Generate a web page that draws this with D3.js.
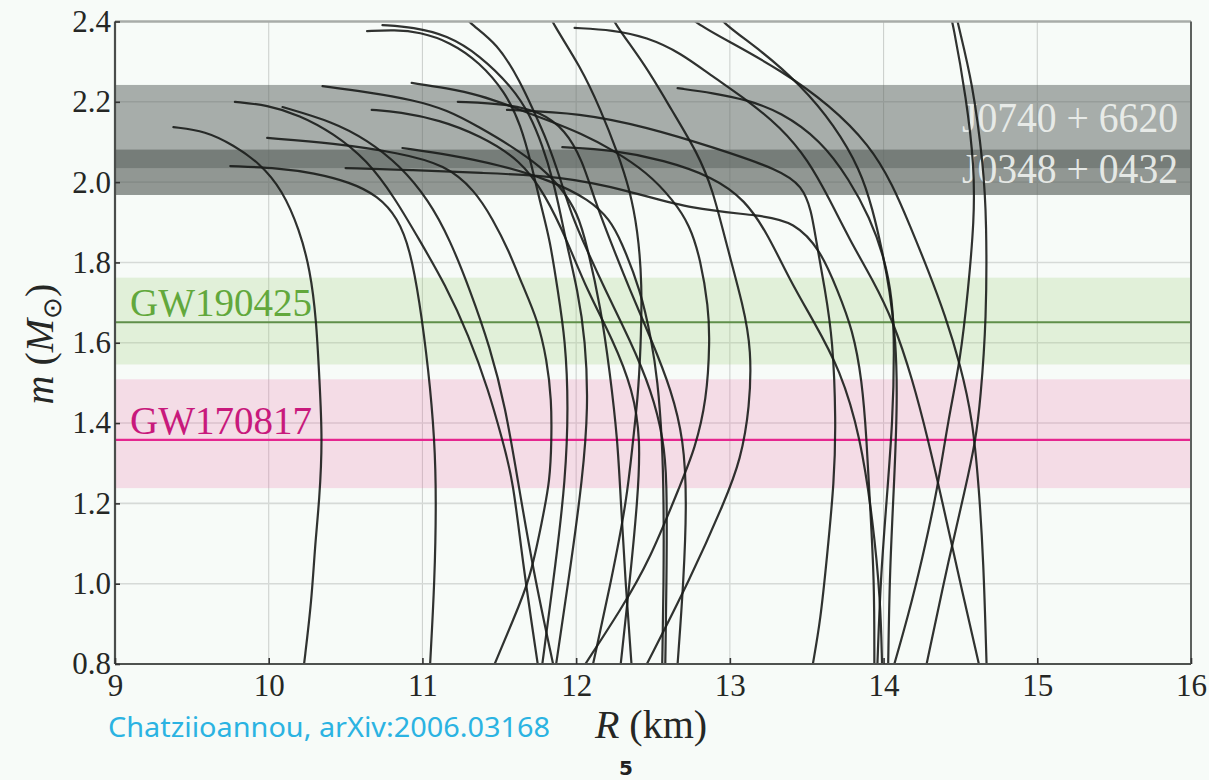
<!DOCTYPE html>
<html>
<head>
<meta charset="utf-8">
<script src="https://cdn.jsdelivr.net/npm/d3@7"></script>
<style>
  html, body { margin: 0; padding: 0; background: #f7fbf8; }
  svg { display: block; }
</style>
</head>
<body>
<svg id="chart" width="1209" height="780"></svg>
<script>
// ---- data -------------------------------------------------------------
// Axis ticks
const radiusTicks = [9, 10, 11, 12, 13, 14, 15, 16];
const massTicks = [0.8, 1.0, 1.2, 1.4, 1.6, 1.8, 2.0, 2.2, 2.4];

// Pulsar mass measurements (grey bands), in solar masses
const pulsarNames = ["J0740 + 6620", "J0348 + 0432"];
const pulsarLow   = [2.035, 1.968];
const pulsarHigh  = [2.242, 2.081];

// Gravitational-wave events: band range and central mass
const gwNames   = ["GW190425", "GW170817"];
const gwLow     = [1.546, 1.238];
const gwHigh    = [1.762, 1.509];
const gwCentral = [1.651, 1.358];

// Mass-radius sequences [R (km), m (Msun)], listed from the heaviest star down to 0.8 Msun
const massRadiusCurves = [
  [[9.38,2.137],[9.59,2.127],[9.77,2.092],[9.94,2.048],[10.09,1.980],[10.20,1.881],[10.27,1.781],[10.31,1.657],[10.33,1.507],[10.35,1.358],[10.33,1.208],[10.30,1.091],[10.28,0.960],[10.23,0.800]],
  [[9.75,2.040],[10.07,2.035],[10.29,2.023],[10.53,2.000],[10.71,1.966],[10.84,1.911],[10.92,1.831],[10.98,1.707],[11.04,1.532],[11.08,1.358],[11.09,1.208],[11.08,1.010],[11.05,0.800]],
  [[9.78,2.200],[9.99,2.192],[10.20,2.167],[10.42,2.122],[10.64,2.055],[10.82,1.961],[10.98,1.856],[11.15,1.744],[11.30,1.619],[11.43,1.482],[11.52,1.358],[11.59,1.258],[11.65,1.059],[11.75,0.800]],
  [[10.09,2.187],[10.42,2.150],[10.64,2.105],[10.85,2.043],[11.04,1.956],[11.18,1.856],[11.31,1.731],[11.44,1.589],[11.54,1.440],[11.62,1.258],[11.72,1.034],[11.85,0.800]],
  [[9.99,2.110],[10.42,2.097],[10.85,2.073],[11.15,2.043],[11.34,1.980],[11.46,1.906],[11.56,1.831],[11.65,1.744],[11.75,1.657],[11.81,1.557],[11.84,1.457],[11.84,1.358],[11.83,1.258],[11.78,1.159],[11.70,1.010],[11.59,0.910],[11.47,0.800]],
  [[10.64,2.376],[10.82,2.379],[10.98,2.374],[11.18,2.349],[11.37,2.299],[11.54,2.224],[11.64,2.142],[11.71,2.043],[11.77,1.943],[11.83,1.856],[11.88,1.731],[11.93,1.607],[11.95,1.440],[11.93,1.258],[11.87,1.059],[11.78,0.800]],
  [[10.74,2.391],[10.94,2.386],[11.16,2.366],[11.37,2.317],[11.59,2.234],[11.70,2.167],[11.78,2.092],[11.85,2.005],[11.90,1.918],[11.94,1.843],[12.01,1.731],[12.06,1.607],[12.08,1.440],[12.04,1.258],[11.97,1.059],[11.87,0.800]],
  [[10.67,2.180],[10.85,2.175],[11.11,2.155],[11.37,2.117],[11.64,2.055],[11.80,1.968],[11.94,1.856],[12.07,1.731],[12.24,1.607],[12.37,1.482],[12.42,1.358],[12.40,1.208],[12.35,1.010],[12.29,0.800]],
  [[11.25,2.430],[11.29,2.399],[11.49,2.346],[11.64,2.247],[11.72,2.180],[11.81,2.105],[11.90,2.005],[11.97,1.918],[12.07,1.831],[12.19,1.731],[12.35,1.607],[12.49,1.482],[12.57,1.358],[12.59,1.258],[12.59,1.059],[12.58,0.800]],
  [[10.35,2.239],[10.64,2.224],[10.94,2.205],[11.16,2.180],[11.37,2.137],[11.59,2.087],[11.77,2.038],[11.90,1.988],[12.01,1.923],[12.07,1.843],[12.16,1.689],[12.22,1.525],[12.27,1.358],[12.29,1.208],[12.32,1.010],[12.36,0.800]],
  [[11.23,2.200],[11.55,2.195],[11.77,2.175],[11.93,2.130],[12.04,2.055],[12.12,1.956],[12.22,1.856],[12.35,1.731],[12.49,1.607],[12.62,1.482],[12.70,1.358],[12.72,1.208],[12.70,1.010],[12.66,0.800]],
  [[11.80,2.440],[11.84,2.399],[12.03,2.287],[12.16,2.180],[12.27,2.073],[12.35,1.980],[12.40,1.881],[12.43,1.749],[12.42,1.582],[12.40,1.457],[12.37,1.358],[12.33,1.208],[12.23,1.010],[12.11,0.800]],
  [[10.87,2.085],[11.18,2.068],[11.50,2.043],[11.83,2.005],[12.09,1.956],[12.22,1.906],[12.29,1.856],[12.42,1.731],[12.49,1.607],[12.53,1.507],[12.56,1.358],[12.57,1.208],[12.57,1.010],[12.56,0.800]],
  [[10.93,2.247],[11.16,2.234],[11.37,2.217],[11.59,2.187],[11.81,2.155],[12.03,2.122],[12.24,2.080],[12.46,2.025],[12.63,1.956],[12.74,1.893],[12.81,1.806],[12.86,1.689],[12.87,1.607],[12.85,1.457],[12.77,1.333],[12.69,1.258],[12.48,1.059],[12.29,0.935],[12.06,0.800]],
  [[12.20,2.440],[12.24,2.399],[12.45,2.292],[12.62,2.180],[12.79,2.073],[12.89,1.980],[12.97,1.856],[13.09,1.689],[13.14,1.582],[13.13,1.440],[13.07,1.308],[12.97,1.208],[12.74,1.010],[12.46,0.800]],
  [[10.50,2.035],[10.94,2.030],[11.37,2.023],[11.90,2.015],[12.33,1.980],[12.76,1.931],[13.20,1.918],[13.42,1.901],[13.59,1.831],[13.70,1.731],[13.80,1.632],[13.86,1.507],[13.89,1.358],[13.91,1.208],[13.94,1.010],[13.94,0.800]],
  [[11.55,2.180],[12.03,2.172],[12.46,2.137],[12.89,2.087],[13.33,2.030],[13.47,1.990],[13.53,1.931],[13.56,1.856],[13.62,1.731],[13.67,1.607],[13.69,1.408],[13.68,1.258],[13.63,1.059],[13.59,0.910],[13.54,0.800]],
  [[11.99,2.384],[12.24,2.379],[12.46,2.361],[12.68,2.322],[12.89,2.262],[13.11,2.205],[13.33,2.137],[13.51,2.055],[13.65,1.956],[13.78,1.856],[13.93,1.756],[14.06,1.657],[14.19,1.507],[14.29,1.358],[14.38,1.208],[14.48,1.034],[14.62,0.800]],
  [[12.88,2.440],[12.94,2.399],[13.20,2.329],[13.46,2.242],[13.68,2.142],[13.85,2.030],[13.93,1.931],[13.99,1.831],[14.04,1.731],[14.08,1.607],[14.09,1.457],[14.07,1.258],[14.04,1.034],[14.03,0.800]],
  [[12.66,2.234],[12.89,2.222],[13.11,2.205],[13.33,2.175],[13.59,2.105],[13.78,2.005],[13.91,1.911],[14.00,1.819],[14.06,1.707],[14.07,1.582],[14.06,1.408],[14.02,1.208],[13.98,1.010],[13.96,0.800]],
  [[12.70,2.430],[12.76,2.399],[13.00,2.349],[13.33,2.279],[13.65,2.192],[13.91,2.092],[14.06,1.993],[14.17,1.893],[14.29,1.781],[14.40,1.669],[14.50,1.545],[14.58,1.408],[14.62,1.241],[14.65,1.059],[14.67,0.800]],
  [[11.91,2.087],[12.24,2.080],[12.57,2.055],[12.89,2.013],[13.10,1.956],[13.25,1.868],[13.39,1.756],[13.54,1.657],[13.72,1.532],[13.85,1.365],[13.93,1.159],[13.98,0.960],[13.99,0.800]],
  [[14.42,2.440],[14.45,2.399],[14.54,2.205],[14.59,2.038],[14.59,1.906],[14.55,1.731],[14.50,1.557],[14.42,1.408],[14.35,1.233],[14.25,1.059],[14.16,0.920],[14.07,0.800]],
  [[14.46,2.440],[14.48,2.399],[14.58,2.247],[14.65,2.038],[14.67,1.906],[14.67,1.657],[14.63,1.457],[14.60,1.358],[14.53,1.233],[14.43,1.072],[14.28,0.800]]
];

// ---- layout -----------------------------------------------------------
const W = 1209, H = 780;
const plot = { left: 115, right: 1191, top: 21.5, bottom: 664 };
const serif = "'Liberation Serif', 'Times New Roman', serif";

const svg = d3.select("#chart");
const x = d3.scaleLinear().domain([9, 16]).range([plot.left, plot.right]);
const y = d3.scaleLinear().domain([0.8, 2.4]).range([plot.bottom, plot.top]);

svg.append("rect").attr("width", W).attr("height", H).attr("fill", "#f7fbf8");

svg.append("defs").append("clipPath").attr("id", "plot-clip")
  .append("rect")
  .attr("x", plot.left).attr("y", plot.top)
  .attr("width", plot.right - plot.left).attr("height", plot.bottom - plot.top);

const inner = svg.append("g").attr("clip-path", "url(#plot-clip)");

// grid
inner.append("g").selectAll("line")
  .data(radiusTicks.slice(1, -1)).join("line")
  .attr("x1", d => x(d)).attr("x2", d => x(d))
  .attr("y1", plot.top).attr("y2", plot.bottom)
  .attr("stroke", "#cdd1ce").attr("stroke-width", 1.1);
inner.append("g").selectAll("line")
  .data(massTicks.slice(1, -1)).join("line")
  .attr("x1", plot.left).attr("x2", plot.right)
  .attr("y1", d => y(d)).attr("y2", d => y(d))
  .attr("stroke", "#d6dad7").attr("stroke-width", 1.6);

// gravitational-wave bands
const gwFill = ["rgba(165,212,132,0.27)", "rgba(235,110,170,0.22)"];
const gwLine = ["#5f8f4a", "#e5268f"];
const gwText = ["#62a83c", "#c8197c"];
inner.append("g").selectAll("rect")
  .data(gwNames).join("rect")
  .attr("x", plot.left).attr("width", plot.right - plot.left)
  .attr("y", (d, i) => y(gwHigh[i]))
  .attr("height", (d, i) => y(gwLow[i]) - y(gwHigh[i]))
  .attr("fill", (d, i) => gwFill[i]);

// pulsar bands
const pulsarAlpha = [0.52, 0.67];
inner.append("g").selectAll("rect")
  .data([1, 0]).join("rect")
  .attr("x", plot.left).attr("width", plot.right - plot.left)
  .attr("y", i => y(pulsarHigh[i]))
  .attr("height", i => y(pulsarLow[i]) - y(pulsarHigh[i]))
  .attr("fill", "#5e6561").attr("fill-opacity", i => pulsarAlpha[i]);

// pulsar labels
inner.append("g").selectAll("text")
  .data(pulsarNames).join("text")
  .attr("x", 1178)
  .attr("y", (d, i) => [132, 183][i])
  .attr("text-anchor", "end")
  .attr("font-family", serif).attr("font-size", 42)
  .attr("textLength", 216).attr("lengthAdjust", "spacingAndGlyphs")
  .attr("fill", "#eef1ee").attr("fill-opacity", 0.92)
  .text(d => d);

// GW central lines and labels
inner.append("g").selectAll("line")
  .data(gwNames).join("line")
  .attr("x1", plot.left).attr("x2", plot.right)
  .attr("y1", (d, i) => y(gwCentral[i])).attr("y2", (d, i) => y(gwCentral[i]))
  .attr("stroke", (d, i) => gwLine[i]).attr("stroke-width", 2.2);
inner.append("g").selectAll("text")
  .data(gwNames).join("text")
  .attr("x", 130)
  .attr("y", (d, i) => y(gwCentral[i]) - 6)
  .attr("font-family", serif).attr("font-size", 39)
  .attr("fill", (d, i) => gwText[i])
  .text(d => d);

// mass-radius curves (smoothed through the sampled points)
const line = d3.line()
  .x(d => x(d[0])).y(d => y(d[1]))
  .curve(d3.curveBasis);
inner.append("g").selectAll("path")
  .data(massRadiusCurves).join("path")
  .attr("d", line)
  .attr("fill", "none")
  .attr("stroke", "#1a1c1a").attr("stroke-opacity", 0.9)
  .attr("stroke-width", 2.2)
  .attr("stroke-linecap", "round");

// frame
const frame = svg.append("g");
frame.append("line").attr("x1", plot.left).attr("x2", plot.right)
  .attr("y1", plot.top).attr("y2", plot.top)
  .attr("stroke", "#a8aca9").attr("stroke-width", 2.5);
frame.append("line").attr("x1", plot.right).attr("x2", plot.right)
  .attr("y1", plot.top).attr("y2", plot.bottom)
  .attr("stroke", "#5d615e").attr("stroke-width", 2);
frame.append("line").attr("x1", plot.left).attr("x2", plot.left)
  .attr("y1", plot.top).attr("y2", plot.bottom)
  .attr("stroke", "#4a4d4b").attr("stroke-width", 2.2);
frame.append("line").attr("x1", plot.left).attr("x2", plot.right)
  .attr("y1", plot.bottom).attr("y2", plot.bottom)
  .attr("stroke", "#4f5250").attr("stroke-width", 2.2);

// axes
const yAxis = d3.axisLeft(y).tickValues(massTicks).tickSize(-5).tickPadding(4)
  .tickFormat(d3.format(".1f"));
const xAxis = d3.axisBottom(x).tickValues(radiusTicks).tickSize(-6).tickPadding(10)
  .tickFormat(d3.format("d"));

const gy = svg.append("g").attr("transform", `translate(${plot.left},0)`).call(yAxis);
const gx = svg.append("g").attr("transform", `translate(0,${plot.bottom})`).call(xAxis);
[gx, gy].forEach(g => {
  g.select(".domain").remove();
  g.selectAll(".tick line").attr("stroke", "#333").attr("stroke-width", 1.6);
  g.selectAll(".tick text")
    .attr("font-family", serif).attr("font-size", 31).attr("fill", "#252725");
});

// axis titles
const yTitle = svg.append("text")
  .attr("transform", "translate(53,344) rotate(-90)")
  .attr("text-anchor", "middle")
  .attr("font-family", serif).attr("font-size", 40).attr("fill", "#252725");
yTitle.append("tspan").attr("font-style", "italic").text("m");
yTitle.append("tspan").text(" (");
yTitle.append("tspan").attr("font-style", "italic").text("M");
yTitle.append("tspan").attr("font-size", 26).attr("dy", 8).text("⊙");
yTitle.append("tspan").attr("dy", -8).text(")");

const xTitle = svg.append("text")
  .attr("x", 651).attr("y", 738)
  .attr("text-anchor", "middle")
  .attr("font-family", serif).attr("font-size", 40).attr("fill", "#252725");
xTitle.append("tspan").attr("font-style", "italic").text("R");
xTitle.append("tspan").text(" (km)");

// source note and page number
svg.append("text")
  .attr("x", 108).attr("y", 737)
  .attr("font-family", "'Noto Sans', 'Open Sans', sans-serif").attr("font-size", 27)
  .attr("textLength", 442).attr("lengthAdjust", "spacingAndGlyphs")
  .attr("fill", "#2bb3e2")
  .text("Chatziioannou, arXiv:2006.03168");

svg.append("text")
  .attr("x", 626).attr("y", 775)
  .attr("text-anchor", "middle")
  .attr("font-family", "'DejaVu Sans', sans-serif").attr("font-size", 20)
  .attr("font-weight", "bold").attr("fill", "#222")
  .text("5");
</script>
</body>
</html>
